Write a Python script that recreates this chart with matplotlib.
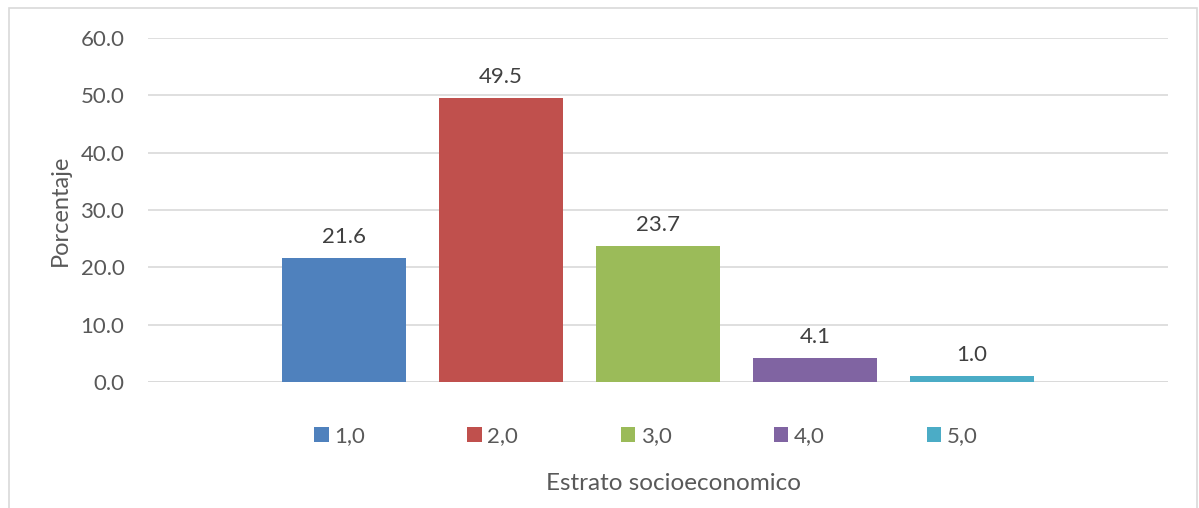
import matplotlib
matplotlib.use("Agg")
import matplotlib.pyplot as plt
from matplotlib.patches import Rectangle, Patch

categories = ["1,0", "2,0", "3,0", "4,0", "5,0"]
values = [21.6, 49.5, 23.7, 4.1, 1.0]
colors = ["#4F81BD", "#C0504D", "#9BBB59", "#8064A2", "#4BACC6"]
yticks = [0, 10, 20, 30, 40, 50, 60]

plt.rcParams['font.family'] = ['Lato', 'DejaVu Sans']
TXT = "#595959"
W, H = 1199, 508
fig = plt.figure(figsize=(W/100, H/100), dpi=100)
fig.patch.set_facecolor("white")
fig.add_artist(Rectangle((8.5/W, -0.05), 1188/W, (H-8.5)/H + 0.05, transform=fig.transFigure,
                         fill=False, edgecolor="#D9D9D9", linewidth=1.2))

ax = fig.add_axes([148/W, (H-382)/H, 1020/W, 344/H])
x = list(range(len(values)))
bars = ax.bar(x, values, width=124/157, color=colors, zorder=3)
for xi, v in zip(x, values):
    ax.text(xi, v + 2.0, f"{v:.1f}", ha="center", va="bottom", fontsize=16, color="#404040")

ax.set_xlim(-1.25, len(values) - 1 + 1.25)
ax.set_ylim(0, 60)
ax.set_yticks(yticks)
ax.set_yticklabels([f"{t:.1f}" for t in yticks], fontsize=16, color=TXT)
ax.set_xticks([])
ax.grid(axis="y", color="#D9D9D9", linewidth=1.2, zorder=0)
for s in ax.spines.values():
    s.set_visible(False)
ax.tick_params(axis="y", length=0, pad=17)
ax.axhline(0, color="#D9D9D9", linewidth=1.2, zorder=2)
ax.set_ylabel("Porcentaje", fontsize=17, color=TXT)
ax.yaxis.set_label_coords((71 - 148)/1020, 0.5)

handles = [Patch(facecolor=c, edgecolor="none") for c in colors]
leg = fig.legend(handles, categories, loc="center", bbox_to_anchor=(646/W, 1 - 436/H),
                 ncol=5, frameon=False, fontsize=16, handlelength=0.65, handleheight=0.65,
                 handletextpad=0.25, columnspacing=4.6, labelcolor=TXT)
fig.text(674/W, 1 - 484/H, "Estrato socioeconomico", ha="center", va="center",
         fontsize=17.5, color=TXT)

fig.savefig("out.png", dpi=100, facecolor="white")
